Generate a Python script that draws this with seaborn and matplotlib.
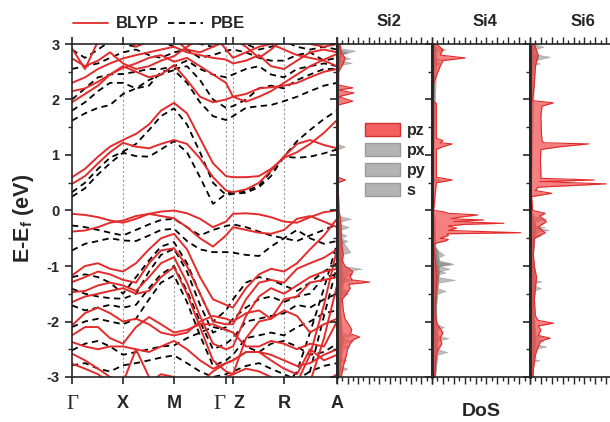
import matplotlib
matplotlib.use('Agg')
import numpy as np
import pandas as pd
import matplotlib.pyplot as plt
import seaborn as sns
from matplotlib.lines import Line2D
from matplotlib.patches import Patch
from matplotlib.ticker import MultipleLocator

sns.set_style('ticks')
plt.rcParams['font.family'] = ['Liberation Sans', 'DejaVu Sans']
plt.rcParams['mathtext.fontset'] = 'custom'
plt.rcParams['mathtext.bf'] = 'Liberation Sans:bold'
plt.rcParams['mathtext.rm'] = 'Liberation Sans'

RED = '#e32b2b'

# 1. Band structure data (path length along Γ-X-M-Γ-Z-R-A, energies in eV)
k_path = [0, 13, 26, 38, 51, 64, 77, 89, 102, 115, 128, 141, 154, 161,
          174, 187, 199, 212, 225, 238, 252, 265]
sym_pos = [0, 51, 102, 154, 161, 212, 265]
sym_labels = ['Γ', 'X', 'M', 'Γ', 'Z', 'R', 'A']

# BLYP bands
blyp_c1 = [0.48, 0.62, 0.85, 1.05, 1.22, 1.15, 1.12, 1.2, 1.27, 1.2, 0.94, 0.6, 0.36, 0.33, 0.38, 0.5, 0.72, 0.97, 1.2, 1.27, 1.18, 1.12]
blyp_c2 = [0.6, 0.75, 0.97, 1.15, 1.27, 1.38, 1.55, 1.8, 1.94, 1.75, 1.3, 0.85, 0.62, 0.6, 0.6, 0.62, 0.75, 0.95, 1.05, 1.2, 1.4, 1.63]
blyp_c3 = [1.95, 2.1, 2.25, 2.45, 2.6, 2.5, 2.4, 2.45, 2.62, 2.35, 2.05, 1.95, 2.0, 2.05, 2.1, 2.2, 2.22, 2.25, 2.3, 2.4, 2.5, 2.55]
blyp_c4 = [2.15, 2.2, 2.32, 2.45, 2.57, 2.65, 2.75, 2.8, 2.68, 2.75, 2.6, 2.45, 2.3, 2.05, 1.96, 2.05, 2.15, 2.3, 2.45, 2.6, 2.72, 2.82]
blyp_c5 = [2.3, 2.4, 2.55, 2.65, 2.74, 2.8, 2.85, 2.9, 2.95, 2.85, 2.8, 2.75, 2.72, 2.65, 2.7, 2.8, 2.6, 2.55, 2.7, 2.85, 2.9, 2.85]
blyp_c6 = [2.74, 2.6, 2.7, 2.85, 2.65, 2.55, 2.6, 2.7, 2.78, 2.95, 3.1, 3.2, 2.9, 2.75, 2.85, 2.95, 3.0, 2.9, 2.8, 2.75, 2.7, 2.6]
blyp_c7 = [2.92, 2.55, 3.05, 3.2, 3.1, 2.95, 3.05, 3.2, 3.1, 2.9, 2.85, 2.95, 3.05, 3.1, 2.95, 2.75, 2.9, 3.1, 3.2, 3.0, 2.95, 3.0]
blyp_v1 = [-0.06, -0.08, -0.12, -0.18, -0.22, -0.15, -0.06, -0.02, 0.0, -0.05, -0.15, -0.3, -0.2, -0.06, -0.05, -0.07, -0.12, -0.2, -0.22, -0.12, -0.03, 0.0]
blyp_v2 = [-0.38, -0.36, -0.3, -0.22, -0.18, -0.1, -0.06, -0.1, -0.14, -0.3, -0.5, -0.65, -0.45, -0.3, -0.35, -0.4, -0.42, -0.35, -0.15, -0.1, -0.2, -0.3]
blyp_v3 = [-1.17, -1.0, -0.95, -1.05, -1.1, -0.95, -0.7, -0.5, -0.42, -0.7, -1.2, -1.6, -1.7, -1.75, -1.4, -1.15, -1.05, -1.1, -0.95, -0.7, -0.45, -0.15]
blyp_v4 = [-1.29, -1.2, -1.1, -1.15, -1.25, -1.3, -0.95, -0.72, -0.68, -1.0, -1.5, -2.0, -2.05, -2.05, -1.6, -1.3, -1.25, -1.3, -1.05, -0.95, -0.85, -0.7]
blyp_v5 = [-1.47, -1.45, -1.35, -1.3, -1.35, -1.45, -1.2, -0.95, -0.84, -1.3, -1.9, -2.4, -2.5, -2.45, -1.9, -1.55, -1.4, -1.5, -1.35, -1.2, -1.1, -1.05]
blyp_v6 = [-1.65, -1.55, -1.5, -1.45, -1.4, -1.5, -1.45, -1.2, -1.02, -1.5, -2.1, -2.7, -2.9, -2.95, -2.3, -2.0, -1.95, -1.6, -1.55, -1.3, -1.25, -1.2]
blyp_v7 = [-2.07, -1.85, -1.75, -1.85, -2.0, -1.95, -2.05, -2.2, -2.25, -2.2, -2.0, -1.9, -1.95, -2.0, -1.85, -1.8, -1.95, -1.8, -1.9, -2.2, -2.05, -1.95]
blyp_v8 = [-2.25, -2.1, -2.1, -2.3, -2.4, -2.1, -1.92, -2.05, -2.2, -2.15, -2.05, -2.05, -2.15, -2.2, -2.45, -2.45, -2.35, -2.4, -2.5, -2.4, -2.45, -2.0]
blyp_v9 = [-2.37, -2.45, -2.5, -2.45, -2.45, -2.5, -2.55, -2.45, -2.35, -2.5, -2.7, -2.85, -2.75, -2.7, -2.55, -2.55, -2.6, -2.7, -2.8, -2.75, -2.6, -2.5]
blyp_v10 = [-2.58, -2.7, -2.85, -3.0, -3.1, -2.5, -3.0, -3.2, -3.3, -3.3, -3.1, -2.9, -2.75, -2.7, -2.55, -2.55, -2.7, -2.85, -2.95, -2.5, -2.7, -2.6]
blyp_v11 = [-2.76, -2.85, -2.95, -3.1, -3.2, -3.2, -3.1, -2.95, -3.0, -3.1, -3.2, -3.2, -3.0, -2.95, -2.85, -2.9, -3.0, -3.1, -3.3, -3.2, -3.1, -2.95]
blyp_v12 = [-3.3, -3.3, -3.3, -3.3, -3.3, -3.3, -3.3, -3.3, -3.3, -3.3, -3.3, -3.3, -3.3, -3.3, -3.3, -3.3, -3.3, -3.3, -3.1, -2.6, -1.7, -0.7]
blyp_v13 = [-3.3, -3.3, -3.3, -3.3, -3.3, -3.3, -3.3, -3.3, -3.3, -3.3, -3.3, -3.3, -3.3, -3.3, -3.3, -3.3, -3.3, -3.3, -3.3, -3.1, -2.3, -1.35]

# PBE bands
pbe_c1 = [0.25, 0.4, 0.65, 0.85, 1.04, 0.98, 0.97, 1.1, 1.25, 1.05, 0.6, 0.12, 0.3, 0.33, 0.35, 0.45, 0.7, 0.97, 0.95, 0.97, 1.03, 1.1]
pbe_c2 = [0.33, 0.5, 0.75, 0.95, 1.06, 1.2, 1.45, 1.7, 1.84, 1.55, 1.05, 0.5, 0.28, 0.3, 0.32, 0.42, 0.62, 0.97, 1.25, 1.45, 1.65, 1.8]
pbe_c3 = [1.62, 1.75, 1.85, 1.9, 2.1, 2.2, 2.35, 2.45, 2.53, 2.3, 1.95, 1.7, 1.63, 1.7, 1.85, 1.88, 1.9, 1.97, 2.05, 2.15, 2.25, 2.3]
pbe_c4 = [1.8, 1.95, 2.15, 2.3, 2.3, 2.2, 2.25, 2.5, 2.55, 2.6, 2.35, 2.0, 1.85, 1.88, 2.0, 2.2, 2.25, 2.2, 2.35, 2.45, 2.55, 2.55]
pbe_c5 = [2.0, 2.2, 2.4, 2.45, 2.46, 2.5, 2.55, 2.55, 2.6, 2.7, 2.55, 2.45, 2.4, 2.45, 2.55, 2.6, 2.45, 2.4, 2.55, 2.6, 2.65, 2.6]
pbe_c6 = [2.55, 2.6, 2.65, 2.75, 2.85, 2.9, 2.8, 2.75, 2.85, 2.9, 2.75, 2.8, 2.88, 2.9, 2.85, 2.75, 2.7, 2.7, 2.8, 2.85, 2.7, 2.75]
pbe_c7 = [2.9, 2.75, 2.9, 3.05, 3.0, 2.95, 3.1, 3.05, 2.95, 3.1, 3.0, 2.95, 3.05, 3.1, 3.0, 2.9, 2.95, 3.05, 2.95, 2.9, 2.95, 2.9]
pbe_v1 = [-0.27, -0.3, -0.35, -0.4, -0.45, -0.35, -0.25, -0.17, -0.15, -0.3, -0.45, -0.35, -0.28, -0.25, -0.3, -0.38, -0.45, -0.5, -0.55, -0.45, -0.35, -0.25]
pbe_v2 = [-0.72, -0.6, -0.55, -0.5, -0.54, -0.55, -0.45, -0.35, -0.33, -0.55, -0.7, -0.75, -0.75, -0.76, -0.8, -0.82, -0.65, -0.5, -0.35, -0.5, -0.6, -0.55]
pbe_v3 = [-1.2, -1.15, -1.2, -1.3, -1.5, -1.2, -0.9, -0.65, -0.57, -0.95, -1.5, -2.0, -1.8, -1.6, -1.3, -1.2, -1.25, -1.35, -1.45, -1.3, -1.1, -0.95]
pbe_v4 = [-1.41, -1.5, -1.55, -1.58, -1.59, -1.5, -1.1, -0.8, -0.69, -1.1, -1.7, -2.2, -2.1, -1.95, -1.75, -1.6, -1.55, -1.65, -1.55, -1.5, -1.2, -1.15]
pbe_v5 = [-1.71, -1.8, -1.75, -1.7, -1.75, -1.7, -1.4, -1.15, -1.0, -1.45, -2.0, -2.5, -2.4, -2.3, -2.0, -1.95, -1.9, -1.85, -1.7, -1.75, -1.6, -1.5]
pbe_v6 = [-2.1, -2.0, -1.95, -2.0, -2.05, -1.95, -1.6, -1.3, -1.17, -1.65, -2.25, -2.8, -2.7, -2.6, -2.3, -2.25, -2.2, -2.25, -2.1, -2.0, -1.85, -1.8]
pbe_v7 = [-2.52, -2.4, -2.35, -2.45, -2.6, -2.55, -2.5, -2.45, -2.43, -2.3, -2.2, -2.1, -2.15, -2.2, -2.45, -2.55, -2.4, -2.35, -2.45, -2.6, -2.55, -2.4]
pbe_v8 = [-2.79, -2.75, -2.85, -2.9, -2.79, -2.75, -2.7, -2.65, -2.61, -2.75, -2.9, -3.0, -2.95, -2.9, -2.8, -2.75, -2.85, -2.95, -3.05, -2.9, -2.8, -2.75]
pbe_v9 = [-3.3, -3.3, -3.3, -3.3, -3.3, -3.3, -3.3, -3.3, -3.3, -3.3, -3.3, -3.3, -3.3, -3.3, -3.3, -3.3, -3.3, -3.2, -2.9, -2.2, -1.4, -0.6]
pbe_v10 = [-3.3, -3.3, -3.3, -3.3, -3.3, -3.3, -3.3, -3.3, -3.3, -3.3, -3.3, -3.3, -3.3, -3.3, -3.3, -3.3, -3.3, -3.3, -3.3, -2.9, -1.9, -1.0]

blyp_bands = [blyp_c1, blyp_c2, blyp_c3, blyp_c4, blyp_c5, blyp_c6, blyp_c7,
              blyp_v1, blyp_v2, blyp_v3, blyp_v4, blyp_v5, blyp_v6, blyp_v7,
              blyp_v8, blyp_v9, blyp_v10, blyp_v11, blyp_v12, blyp_v13]
pbe_bands = [pbe_c1, pbe_c2, pbe_c3, pbe_c4, pbe_c5, pbe_c6, pbe_c7,
             pbe_v1, pbe_v2, pbe_v3, pbe_v4, pbe_v5, pbe_v6, pbe_v7,
             pbe_v8, pbe_v9, pbe_v10]

# 2. DoS data (energy in eV, DoS in arb. units)
si2_pz_E = [-3.0, -2.9, -2.8, -2.7, -2.6, -2.5, -2.4, -2.33, -2.28, -2.22, -2.15, -2.05, -1.95, -1.8, -1.6, -1.5, -1.4, -1.33, -1.29, -1.25, -1.18, -1.1, -1.0, -0.9, -0.8, -0.6, -0.4, -0.2, 0.0, 0.5, 0.55, 0.6, 1.0, 1.9, 1.97, 2.05, 2.12, 2.17, 2.21, 2.26, 2.5, 2.65, 2.75, 2.85, 3.0]
si2_pz_v = [0.8, 1.0, 1.2, 1.5, 1.8, 2.0, 2.5, 3.0, 4.3, 2.5, 2.8, 2.2, 1.5, 1.2, 1.0, 1.8, 2.5, 2.2, 6.2, 2.8, 2.5, 3.0, 1.5, 1.0, 1.2, 0.9, 0.8, 0.7, 0.4, 0.2, 1.6, 0.2, 0.2, 0.2, 3.0, 0.3, 3.2, 0.3, 3.0, 0.3, 0.3, 1.2, 1.5, 0.8, 0.5]
si2_px_E = [-3.0, -2.9, -2.85, -2.8, -2.6, -2.5, -2.45, -2.4, -2.3, -2.25, -2.2, -2.0, -1.8, -1.6, -1.5, -1.45, -1.4, -1.3, -1.2, -1.15, -1.1, -1.05, -1.0, -0.85, -0.6, -0.55, -0.5, -0.35, -0.3, -0.25, -0.1, 0.0, 2.4, 2.6, 2.7, 2.74, 2.8, 2.88, 2.92, 3.0]
si2_px_v = [0.5, 0.7, 2.0, 0.6, 0.8, 1.0, 2.2, 1.0, 1.2, 2.8, 1.0, 0.8, 0.6, 0.8, 0.9, 2.0, 1.0, 1.2, 1.5, 3.0, 1.4, 4.7, 1.2, 1.0, 0.8, 2.0, 0.8, 0.7, 2.2, 0.7, 0.6, 0.2, 0.1, 0.4, 0.6, 2.5, 0.6, 3.4, 0.8, 0.6]
si2_py_E = [-3.0, -2.75, -2.7, -2.65, -2.4, -2.35, -2.3, -2.0, -1.7, -1.55, -1.5, -1.45, -1.3, -1.25, -1.2, -0.9, -0.8, -0.75, -0.5, -0.45, -0.4, -0.2, -0.15, -0.1, 0.0, 1.1, 1.15, 1.2, 2.5, 2.62, 2.66, 2.7, 3.0]
si2_py_v = [0.4, 0.6, 1.8, 0.6, 0.8, 3.2, 0.9, 0.7, 0.6, 0.8, 2.2, 0.8, 0.9, 3.0, 1.0, 0.7, 0.7, 2.5, 0.7, 1.8, 0.6, 0.6, 2.6, 0.5, 0.2, 0.1, 1.5, 0.1, 0.3, 0.5, 2.8, 0.6, 0.5]
si2_s_E = [-3.0, -2.8, -2.4, -2.0, -1.6, -1.2, -0.8, -0.4, 0.0, 2.5, 2.8, 2.85, 2.9, 3.0]
si2_s_v = [0.3, 0.6, 0.8, 0.5, 0.6, 0.9, 0.7, 0.6, 0.1, 0.2, 0.5, 2.0, 0.5, 0.4]

si4_pz_E = [-3.0, -2.8, -2.6, -2.5, -2.4, -2.3, -2.2, -2.1, -2.0, -1.8, -1.5, -1.2, -1.0, -0.8, -0.62, -0.58, -0.55, -0.52, -0.5, -0.45, -0.42, -0.4, -0.36, -0.32, -0.28, -0.25, -0.23, -0.2, -0.17, -0.15, -0.12, -0.08, -0.05, -0.02, 0.0, 0.5, 0.55, 0.6, 1.1, 1.15, 1.2, 1.22, 1.26, 1.3, 1.6, 1.93, 1.97, 2.3, 2.6, 2.7, 2.75, 2.8, 2.9, 3.0]
si4_pz_v = [0.5, 0.6, 0.8, 1.2, 1.8, 1.5, 2.0, 1.3, 0.8, 0.6, 0.7, 0.9, 0.7, 0.5, 0.3, 1.0, 2.5, 3.0, 1.5, 3.0, 2.8, 16.3, 3.0, 4.5, 3.0, 6.0, 13.2, 4.0, 9.5, 3.5, 5.0, 8.4, 3.0, 2.0, 0.3, 0.8, 3.7, 0.8, 0.8, 2.0, 3.7, 1.5, 2.0, 0.8, 0.8, 0.8, 0.2, 0.3, 1.5, 2.0, 6.1, 1.5, 2.0, 0.8]
si4_px_E = [-3.0, -2.8, -2.6, -2.55, -2.5, -2.3, -2.15, -2.1, -2.05, -1.9, -1.6, -1.4, -1.3, -1.25, -1.2, -1.1, -1.05, -1.0, -0.97, -0.93, -0.85, -0.8, -0.7, -0.6, -0.3, -0.1, 0.0, 2.5, 2.6, 2.65, 2.7, 2.85, 2.9, 2.95, 3.0]
si4_px_v = [0.5, 0.8, 1.0, 2.8, 1.0, 0.9, 1.0, 2.2, 0.9, 0.7, 0.8, 1.0, 1.2, 4.2, 1.2, 1.3, 3.2, 1.3, 4.0, 1.4, 1.2, 2.2, 0.8, 0.5, 0.6, 0.5, 0.2, 0.3, 0.5, 1.5, 0.6, 0.6, 2.5, 0.6, 0.5]
si4_py_E = [-3.0, -2.7, -2.45, -2.35, -2.3, -2.25, -2.0, -1.7, -1.5, -1.45, -1.4, -1.15, -1.12, -1.08, -1.0, -0.95, -0.9, -0.7, -0.65, 0.0, 2.6, 2.7, 2.72, 2.75, 3.0]
si4_py_v = [0.6, 0.8, 0.9, 1.0, 3.0, 1.0, 0.8, 0.8, 1.0, 2.5, 1.0, 1.2, 2.5, 1.2, 1.3, 3.6, 1.2, 1.0, 0.5, 0.2, 0.4, 0.6, 2.0, 0.6, 0.5]
si4_s_E = [-3.0, -2.5, -2.0, -1.5, -1.1, -0.8, 0.0, 0.5, 0.55, 0.6, 2.7, 3.0]
si4_s_v = [0.4, 0.7, 0.6, 0.8, 1.2, 0.7, 0.2, 0.1, 1.5, 0.1, 0.8, 0.5]

si6_pz_E = [-3.0, -2.8, -2.6, -2.45, -2.35, -2.3, -2.25, -2.15, -2.08, -2.03, -1.98, -1.9, -1.6, -1.4, -1.2, -1.0, -0.8, -0.5, -0.4, -0.3, -0.2, -0.1, -0.05, 0.0, 0.25, 0.31, 0.36, 0.42, 0.48, 0.52, 0.55, 0.58, 0.62, 0.7, 0.9, 1.1, 1.15, 1.2, 1.22, 1.26, 1.4, 1.7, 1.88, 1.94, 1.98, 2.1, 2.3, 2.6, 2.8, 3.0]
si6_pz_v = [0.5, 0.7, 1.0, 1.5, 2.0, 3.7, 1.5, 2.0, 1.5, 4.3, 1.5, 1.0, 0.8, 1.0, 1.2, 0.8, 0.6, 0.8, 2.8, 1.5, 3.0, 1.8, 2.8, 0.5, 0.3, 4.0, 1.0, 1.5, 14.0, 1.8, 11.8, 2.0, 2.0, 2.0, 1.9, 2.0, 5.6, 10.8, 2.5, 2.2, 2.1, 2.0, 2.2, 4.3, 0.4, 0.6, 0.8, 1.0, 1.5, 0.8]
si6_px_E = [-3.0, -2.8, -2.6, -2.5, -2.45, -2.4, -2.3, -2.28, -2.25, -2.0, -1.8, -1.5, -1.3, -1.28, -1.25, -1.0, -0.6, -0.5, -0.45, -0.4, -0.35, -0.3, -0.2, -0.15, -0.1, 0.0, 2.4, 2.6, 2.7, 2.77, 2.82, 2.9, 2.95, 3.0]
si6_px_v = [0.4, 0.6, 0.8, 0.9, 3.0, 0.9, 1.0, 2.5, 1.0, 0.8, 0.6, 0.7, 0.8, 2.2, 0.8, 0.6, 0.5, 0.8, 2.0, 0.9, 3.5, 0.9, 1.0, 3.0, 0.7, 0.2, 0.2, 0.4, 0.6, 3.7, 0.6, 0.7, 2.5, 0.6]
si6_py_E = [-3.0, -2.72, -2.7, -2.68, -2.4, -2.35, -2.3, -1.9, -1.45, -1.4, -1.35, -0.9, -0.5, -0.32, -0.3, -0.28, 0.0, 2.5, 2.62, 2.65, 2.68, 3.0]
si6_py_v = [0.5, 0.6, 1.8, 0.6, 0.8, 2.5, 0.8, 0.6, 0.7, 2.0, 0.7, 0.5, 0.7, 0.9, 2.8, 0.9, 0.2, 0.3, 0.5, 1.8, 0.5, 0.5]
si6_s_E = [-3.0, -2.6, -2.2, -1.8, -1.3, -0.8, -0.3, 0.0, 2.6, 2.8, 3.0]
si6_s_v = [0.3, 0.9, 0.8, 0.5, 1.0, 0.6, 1.0, 0.1, 0.8, 1.5, 0.6]

dos_titles = ['Si2', 'Si4', 'Si6']
dos_data = [
    {'pz': (si2_pz_E, si2_pz_v), 'px': (si2_px_E, si2_px_v), 'py': (si2_py_E, si2_py_v), 's': (si2_s_E, si2_s_v)},
    {'pz': (si4_pz_E, si4_pz_v), 'px': (si4_px_E, si4_px_v), 'py': (si4_py_E, si4_py_v), 's': (si4_s_E, si4_s_v)},
    {'pz': (si6_pz_E, si6_pz_v), 'px': (si6_px_E, si6_px_v), 'py': (si6_py_E, si6_py_v), 's': (si6_s_E, si6_s_v)},
]


def band_frame(bands, method):
    frames = []
    for i, b in enumerate(bands):
        frames.append(pd.DataFrame({'k': k_path, 'E': b, 'band': f'{method}{i}', 'method': method}))
    return pd.concat(frames, ignore_index=True)


df_blyp = band_frame(blyp_bands, 'BLYP')
df_pbe = band_frame(pbe_bands, 'PBE')

W, H = 610, 422
fig = plt.figure(figsize=(W / 100, H / 100), dpi=100)
ax = fig.add_axes([72 / W, 1 - 377 / H, 265 / W, 333 / H])

# vertical lines at high-symmetry points
for p in sym_pos[1:-1]:
    ax.axvline(p, color='#9a9a9a', lw=0.8, ls=(0, (2, 2)), zorder=0)
n_vl = len(ax.lines)

sns.lineplot(data=df_pbe, x='k', y='E', units='band', estimator=None, sort=False,
             color='black', lw=1.3, ax=ax, legend=False)
for line in ax.lines[n_vl:]:
    line.set_dashes((3.5, 2.5))
sns.lineplot(data=df_blyp, x='k', y='E', units='band', estimator=None, sort=False,
             color=RED, lw=1.4, ax=ax, legend=False)

ax.set_xlim(0, 265)
ax.set_ylim(-3, 3)
ax.set_xlabel('')
ax.set_ylabel('')
ax.set_yticks([-3, -2, -1, 0, 1, 2, 3])
ax.set_yticklabels(['-3', '-2', '-1', '0', '1', '2', '3'], fontweight='bold', fontsize=10.5)
ax.yaxis.set_minor_locator(MultipleLocator(0.5))
ax.tick_params(axis='y', which='major', direction='out', length=5, width=1.2, pad=4)
ax.tick_params(axis='y', which='minor', direction='out', length=3, width=1.0)
ax.set_xticks(sym_pos)
ax.set_xticklabels(sym_labels, fontweight='bold', fontsize=13)
ax.tick_params(axis='x', which='major', direction='out', length=5, width=1.2,
               top=True, bottom=True, pad=8)
for i, t in enumerate(ax.get_xticklabels()):
    if sym_labels[i] == 'Γ':
        t.set_fontfamily(['Liberation Serif', 'DejaVu Serif'])
        t.set_fontweight('normal')
        t.set_fontsize(15)
    if i == 3:
        t.set_ha('right')
    if i == 4:
        t.set_ha('left')
for s in ax.spines.values():
    s.set_linewidth(1.2)

# band legend on top
handles = [Line2D([], [], color=RED, lw=1.3),
           Line2D([], [], color='black', lw=1.3, dashes=(3.5, 2.5))]
fig.legend(handles, ['BLYP', 'PBE'], ncol=2, loc='center left',
           bbox_to_anchor=(58 / W, 1 - 24 / H), frameon=False,
           prop={'weight': 'bold', 'size': 12}, handlelength=2.1,
           columnspacing=0.5, handletextpad=0.5)

fig.text(24 / W, 1 - 218 / H, r'E-E$_\mathbf{f}$ (eV)', rotation=90, ha='center',
         va='center', fontsize=15.5, fontweight='bold')

# 3. DoS panels
dos_left = [337, 432, 530]
dos_width = [95, 98, 98]
for j, (title, data) in enumerate(zip(dos_titles, dos_data)):
    dax = fig.add_axes([dos_left[j] / W, 1 - 377 / H, dos_width[j] / W, 333 / H])
    for orb in ['s', 'py', 'px']:
        E, v = data[orb]
        dax.fill_betweenx(E, 0, v, color='#6e6e6e', alpha=0.45, lw=0.5)
    E, v = data['pz']
    dax.fill_betweenx(E, 0, v, facecolor='#f04a4a', alpha=0.7, lw=0)
    dax.plot(v, E, color=RED, lw=0.8)
    dax.set_xlim(0, 18)
    dax.set_ylim(-3, 3)
    dax.set_xticks(np.arange(0, 19, 2))
    dax.xaxis.set_minor_locator(MultipleLocator(1))
    dax.set_yticks([-3, -2, -1, 0, 1, 2, 3])
    dax.yaxis.set_minor_locator(MultipleLocator(0.5))
    dax.set_xticklabels([])
    dax.set_yticklabels([])
    dax.tick_params(axis='x', which='major', direction='out', length=5, width=1.0, top=True, bottom=True)
    dax.tick_params(axis='x', which='minor', direction='out', length=3, width=1.0, top=True, bottom=True)
    dax.tick_params(axis='y', which='major', direction='out', length=5, width=1.2)
    dax.tick_params(axis='y', which='minor', direction='out', length=3, width=1.0)
    for s in dax.spines.values():
        s.set_linewidth(1.2)
    dax.spines['left'].set_linewidth(2.0)
    fig.text((dos_left[j] + dos_width[j] / 2 + 4) / W, 1 - 22 / H, title,
             ha='center', va='center', fontsize=12, fontweight='bold')

fig.text(481 / W, 1 - 412 / H, 'DoS', ha='center', va='center', fontsize=14, fontweight='bold')

dos_handles = [Patch(facecolor='#f26060', edgecolor='#d23030', label='pz'),
               Patch(facecolor='#b4b4b4', edgecolor='#9a9a9a', label='px'),
               Patch(facecolor='#b4b4b4', edgecolor='#9a9a9a', label='py'),
               Patch(facecolor='#b4b4b4', edgecolor='#9a9a9a', label='s')]
fig.legend(handles=dos_handles, loc='upper left', bbox_to_anchor=(354 / W, 1 - 112 / H),
           frameon=False, prop={'weight': 'bold', 'size': 11.5}, handlelength=2.2,
           handleheight=0.9, labelspacing=0.3, handletextpad=0.4, borderpad=0.2)

fig.savefig('out.png', dpi=100)
